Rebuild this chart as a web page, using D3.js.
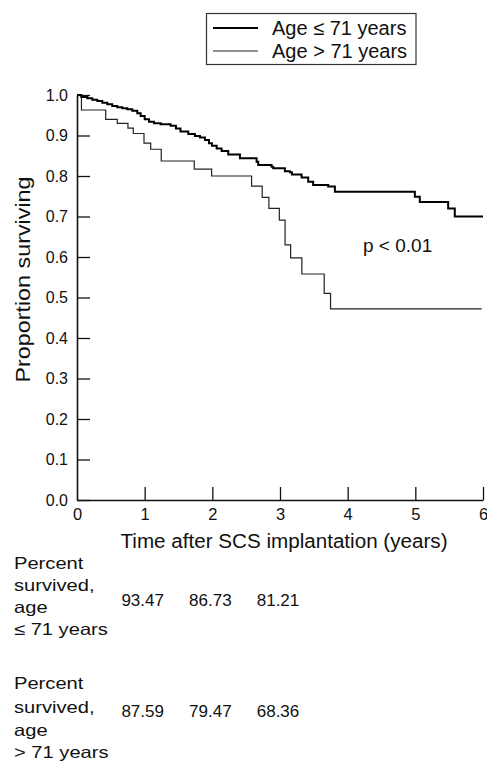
<!DOCTYPE html>
<html>
<head>
<meta charset="utf-8">
<script src="https://cdn.jsdelivr.net/npm/d3@7"></script>
<style>
  html, body { margin: 0; padding: 0; background: #fff; }
  svg { display: block; }
  text { font-family: "Liberation Sans", Arial, sans-serif; fill: #111; }
</style>
</head>
<body>
<svg id="chart" width="487" height="762"></svg>
<script>
// ---- data ----
const seriesNames = ["Age \u2264 71 years", "Age > 71 years"];

const timesLE71 = [0, 0.064, 0.152, 0.226, 0.30, 0.374, 0.448, 0.521, 0.595, 0.669,
  0.743, 0.817, 0.891, 0.941, 1.0, 1.064, 1.137, 1.236, 1.384, 1.462,
  1.529, 1.644, 1.743, 1.817, 1.891, 1.95, 1.994, 2.064, 2.137, 2.235,
  2.408, 2.654, 2.678, 2.875, 2.90, 3.072, 3.146, 3.176, 3.319, 3.417,
  3.49, 3.712, 3.811, 4.993, 5.066, 5.485, 5.583, 6.0];
const survLE71 = [1.0, 0.995, 0.992, 0.988, 0.985, 0.981, 0.977, 0.973, 0.970, 0.967,
  0.965, 0.961, 0.955, 0.948, 0.940, 0.934, 0.930, 0.928, 0.924, 0.917,
  0.910, 0.904, 0.899, 0.895, 0.889, 0.881, 0.875, 0.868, 0.862, 0.853,
  0.844, 0.835, 0.827, 0.823, 0.819, 0.812, 0.809, 0.804, 0.796, 0.786,
  0.778, 0.774, 0.761, 0.749, 0.736, 0.720, 0.700, 0.700];

const timesGT71 = [0, 0.066, 0.424, 0.595, 0.753, 0.832, 0.99, 1.089, 1.245, 1.733,
  1.99, 2.58, 2.737, 2.836, 2.99, 3.075, 3.157, 3.323, 3.653, 3.747, 5.98];
const survGT71 = [1.0, 0.963, 0.940, 0.930, 0.918, 0.905, 0.881, 0.866, 0.837, 0.817,
  0.800, 0.775, 0.747, 0.720, 0.691, 0.630, 0.598, 0.558, 0.510, 0.472, 0.472];

const xTicks = [0, 1, 2, 3, 4, 5, 6];
const yTicks = [0, 0.1, 0.2, 0.3, 0.4, 0.5, 0.6, 0.7, 0.8, 0.9, 1.0];

const tableYears = [1, 2, 3];
const tableLE71 = ["93.47", "86.73", "81.21"];
const tableGT71 = ["87.59", "79.47", "68.36"];
const tableLabelLE71 = ["Percent", "survived,", "age", "\u2264 71 years"];
const tableLabelGT71 = ["Percent", "survived,", "age", "> 71 years"];
const pText = "p < 0.01";

// ---- layout ----
const svg = d3.select("#chart");
const x = d3.scaleLinear().domain([0, 6]).range([77, 483]);
const y = d3.scaleLinear().domain([0, 1]).range([500, 95]);

// axes
const yAxis = d3.axisLeft(y).tickValues(yTicks).tickFormat(d3.format(".1f"))
  .tickSize(-13).tickSizeOuter(0).tickPadding(9);
const gy = svg.append("g").attr("transform", `translate(${x(0)},0)`).call(yAxis);
gy.selectAll("text").style("font-size", "16px").attr("fill", "#111");

const xAxis = d3.axisBottom(x).tickValues(xTicks).tickFormat(d3.format("d"))
  .tickSize(-13).tickSizeOuter(0).tickPadding(8);
const gx = svg.append("g").attr("transform", `translate(0,${y(0)})`).call(xAxis);
gx.selectAll("text").style("font-size", "16.5px").attr("fill", "#111");
gx.selectAll(".tick").filter(d => d === 0).select("line").remove();

[gx, gy].forEach(g => {
  g.selectAll("path.domain").attr("stroke", "#111").attr("stroke-width", 1.6);
  g.selectAll(".tick line").attr("stroke", "#111").attr("stroke-width", 1.3);
});

// curves
const line = d3.line().x(d => x(d[0])).y(d => y(d[1])).curve(d3.curveStepAfter);
const dataLE = timesLE71.map((t, i) => [t, survLE71[i]]);
const dataGT = timesGT71.map((t, i) => [t, survGT71[i]]);

svg.append("path").datum(dataGT).attr("d", line)
  .attr("fill", "none").attr("stroke", "#222").attr("stroke-width", 1.2);
svg.append("path").datum(dataLE).attr("d", line)
  .attr("fill", "none").attr("stroke", "#000").attr("stroke-width", 2);

// axis titles
svg.append("text")
  .attr("transform", `translate(30,${(y(0.25) + y(0.75)) / 2 - 18}) rotate(-90)`)
  .attr("text-anchor", "middle")
  .style("font-size", "20px")
  .attr("textLength", 206).attr("lengthAdjust", "spacingAndGlyphs")
  .text("Proportion surviving");

svg.append("text")
  .attr("x", (x(0) + x(6)) / 2 + 4).attr("y", 548)
  .attr("text-anchor", "middle")
  .style("font-size", "20px")
  .attr("textLength", 327).attr("lengthAdjust", "spacingAndGlyphs")
  .text("Time after SCS implantation (years)");

// p value
svg.append("text").attr("x", 363).attr("y", 252)
  .style("font-size", "19px").text(pText);

// legend
const leg = svg.append("g");
leg.append("rect").attr("x", 206.5).attr("y", 13.5).attr("width", 209.5).attr("height", 51)
  .attr("fill", "#fff").attr("stroke", "#333").attr("stroke-width", 1.2);
const legRows = [{ name: seriesNames[0], w: 2, c: "#000" }, { name: seriesNames[1], w: 1.2, c: "#222" }];
legRows.forEach((r, i) => {
  const by = 35 + i * 23;
  leg.append("line").attr("x1", 213).attr("x2", 258).attr("y1", by - 7).attr("y2", by - 7)
    .attr("stroke", r.c).attr("stroke-width", r.w);
  leg.append("text").attr("x", 272).attr("y", by).style("font-size", "20px").text(r.name);
});

// table
function labelBlock(lines, baselines) {
  lines.forEach((s, i) => {
    const t = svg.append("text").attr("x", 14).attr("y", baselines[i])
      .style("font-size", "16.5px").text(s);
    const w = t.node().getComputedTextLength();
    t.attr("textLength", w * 1.22).attr("lengthAdjust", "spacingAndGlyphs");
  });
}
labelBlock(tableLabelLE71, [569, 591, 613, 635]);
labelBlock(tableLabelGT71, [689, 713, 736, 758]);

function valueRow(vals, base) {
  vals.forEach((v, i) => {
    svg.append("text").attr("x", x(tableYears[i]) - 2).attr("y", base)
      .attr("text-anchor", "middle").style("font-size", "17px").text(v);
  });
}
valueRow(tableLE71, 606);
valueRow(tableGT71, 717);
</script>
</body>
</html>
